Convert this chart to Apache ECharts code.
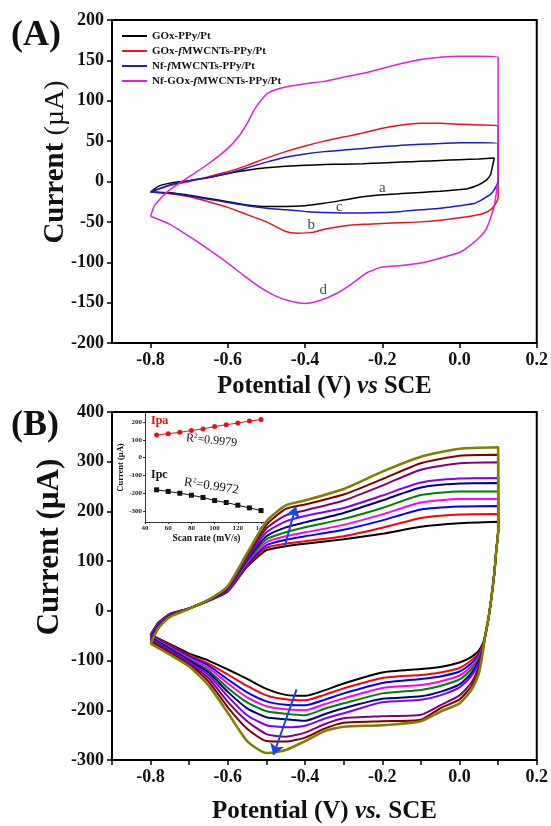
<!DOCTYPE html>
<html>
<head>
<meta charset="utf-8">
<script src="https://cdn.jsdelivr.net/npm/echarts@6/dist/echarts.min.js"></script>
<style>
  html, body { margin: 0; padding: 0; background: #fff; }
  #chart { width: 551px; height: 826px; }
</style>
</head>
<body>
<div id="chart"></div>
<script>
// ---------- panel A : four CV loops (potential V, current uA) ----------
const namesA = ['GOx-PPy/Pt', 'GOx-fMWCNTs-PPy/Pt', 'Nf-fMWCNTs-PPy/Pt', 'Nf-GOx-fMWCNTs-PPy/Pt']
const colorsA = ['#000000', '#e8141c', '#1a1ad0', '#e020e0']

// a : GOx-PPy/Pt
const eUpA1 = [-0.8, -0.78, -0.75, -0.7, -0.65, -0.6, -0.55, -0.5, -0.45, -0.4, -0.35, -0.3, -0.25, -0.2, -0.15, -0.1, -0.05, 0.0, 0.05, 0.09]
const iUpA1 = [-13, -6, -2, 1, 5, 10, 14, 17, 19, 20, 21, 21.5, 22, 23, 24, 25, 26, 27, 28, 29]
const eDnA1 = [0.09, 0.085, 0.08, 0.07, 0.05, 0.02, 0.0, -0.05, -0.1, -0.15, -0.2, -0.25, -0.3, -0.35, -0.4, -0.45, -0.5, -0.55, -0.6, -0.65, -0.7, -0.75, -0.8]
const iDnA1 = [29, 18, 8, 2, -4, -9, -10, -12, -13.5, -15, -16.5, -19, -23, -27, -30, -31, -31, -29, -25, -21, -17, -14, -13]
// b : GOx-fMWCNTs-PPy/Pt
const eUpA2 = [-0.8, -0.75, -0.7, -0.65, -0.6, -0.55, -0.5, -0.45, -0.4, -0.35, -0.3, -0.25, -0.2, -0.15, -0.1, -0.05, 0.0, 0.05, 0.1]
const iUpA2 = [-13, -5, 0, 6, 12, 20, 29, 37, 44, 50, 55, 60, 66, 70, 72, 72, 71, 70, 69]
const eDnA2 = [0.1, 0.1, 0.09, 0.08, 0.06, 0.04, 0.0, -0.05, -0.1, -0.15, -0.2, -0.25, -0.3, -0.35, -0.38, -0.42, -0.45, -0.5, -0.55, -0.6, -0.65, -0.7, -0.75, -0.8]
const iDnA2 = [69, -20, -30, -35, -40, -42, -45, -48, -50, -51, -52, -53, -55, -59, -63, -64, -62, -50, -41, -32, -25, -19, -15, -13]
// c : Nf-fMWCNTs-PPy/Pt
const eUpA3 = [-0.8, -0.75, -0.7, -0.65, -0.6, -0.55, -0.5, -0.45, -0.4, -0.35, -0.3, -0.25, -0.2, -0.15, -0.1, -0.05, 0.0, 0.05, 0.1]
const iUpA3 = [-13, -4, 1, 5, 10, 17, 24, 30, 34, 37, 39, 41, 43, 45, 46, 47, 48, 48, 47]
const eDnA3 = [0.1, 0.1, 0.09, 0.08, 0.06, 0.04, 0.0, -0.05, -0.1, -0.15, -0.2, -0.25, -0.3, -0.35, -0.4, -0.45, -0.5, -0.55, -0.6, -0.65, -0.7, -0.75, -0.8]
const iDnA3 = [47, 0, -10, -16, -22, -27, -30, -33, -35, -37, -38.5, -39, -39, -38.5, -37, -35, -33, -30, -26, -22, -18, -15, -13]
// d : Nf-GOx-fMWCNTs-PPy/Pt
const eUpA4 = [-0.8, -0.79, -0.77, -0.75, -0.7, -0.65, -0.6, -0.57, -0.55, -0.53, -0.5, -0.48, -0.45, -0.4, -0.35, -0.3, -0.25, -0.2, -0.15, -0.1, -0.05, 0.0, 0.05, 0.1]
const iUpA4 = [-43, -30, -19, -10, 6, 22, 41, 57, 72, 90, 108, 113, 117, 121, 124, 129, 134, 140, 146, 151, 154, 155, 155, 154]
const eDnA4 = [0.1, 0.1, 0.09, 0.07, 0.05, 0.02, 0.0, -0.05, -0.1, -0.15, -0.2, -0.24, -0.28, -0.32, -0.36, -0.4, -0.44, -0.48, -0.52, -0.56, -0.6, -0.65, -0.7, -0.75, -0.8]
const iDnA4 = [154, 10, -30, -58, -70, -82, -88, -95, -101, -104, -106, -113, -127, -139, -147, -151, -148, -141, -130, -116, -101, -84, -68, -53, -43]

const curveLetters = ['a', 'b', 'c', 'd']
const letterE = [-0.2, -0.384, -0.311, -0.353]
const letterI = [-8, -54, -32, -134]

// ---------- panel B : CVs at 50..140 mV/s ----------
const scanRates = [50, 60, 70, 80, 90, 100, 110, 120, 130, 140]
const colorsB = ['#000000', '#ff0000', '#0000ff', '#ff00ff', '#008000', '#000080', '#8000ff', '#800080', '#800000', '#808000']
const eUpB = [-0.8, -0.78, -0.75, -0.7, -0.65, -0.6, -0.55, -0.5, -0.45, -0.4, -0.3, -0.2, -0.1, 0.0, 0.1]
const iUpB50 = [-48, -24, -6, 5, 20, 39, 89, 122, 130, 135, 144, 155, 169, 176, 179]
const iUpB60 = [-49, -25, -7, 5, 20, 40, 91, 127, 135, 140, 150, 167, 187, 194, 195]
const iUpB70 = [-50, -26, -8, 5, 20, 42, 94, 132, 143, 150, 163, 182, 204, 210, 211]
const iUpB80 = [-51, -27, -8, 5, 21, 43, 97, 138, 150, 158, 173, 194, 218, 225, 225]
const iUpB90 = [-52, -28, -9, 5, 21, 44, 100, 144, 158, 168, 185, 207, 233, 240, 240]
const iUpB100 = [-54, -29, -9, 5, 21, 45, 103, 150, 168, 178, 197, 222, 248, 256, 257]
const iUpB110 = [-56, -30, -10, 5, 22, 46, 106, 158, 180, 191, 207, 232, 258, 266, 267]
const iUpB120 = [-59, -32, -11, 5, 22, 47, 109, 166, 192, 202, 222, 252, 284, 297, 299]
const iUpB130 = [-62, -33, -11, 4, 22, 48, 112, 173, 205, 214, 234, 265, 297, 312, 314]
const iUpB140 = [-66, -35, -12, 4, 22, 50, 116, 180, 212, 222, 245, 280, 310, 326, 329]

const eDnB = [0.1, 0.1, 0.095, 0.09, 0.083, 0.075, 0.066, 0.06, 0.05, 0.03, 0.0, -0.05, -0.1, -0.2, -0.3, -0.35, -0.4, -0.45, -0.5, -0.55, -0.6, -0.65, -0.7, -0.75, -0.8]
const iDnB50 = [179, 160, 120, 75, 29, -15, -52, -66, -80, -93, -104, -113, -117, -124, -146, -160, -171, -169, -157, -137, -118, -100, -86, -67, -48]
const iDnB60 = [195, 160, 120, 75, 29, -15, -52, -68, -85, -100, -115, -124, -129, -135, -156, -169, -180, -178, -170, -151, -128, -106, -89, -69, -49]
const iDnB70 = [211, 160, 120, 75, 29, -15, -52, -70, -88, -106, -122, -132, -137, -145, -166, -179, -190, -189, -182, -164, -138, -110, -92, -71, -50]
const iDnB80 = [225, 160, 120, 75, 29, -15, -52, -72, -92, -112, -130, -142, -149, -155, -176, -188, -200, -198, -192, -174, -146, -115, -95, -73, -51]
const iDnB90 = [240, 160, 120, 75, 29, -15, -52, -74, -96, -118, -138, -151, -159, -166, -186, -197, -210, -207, -202, -184, -155, -120, -98, -75, -52]
const iDnB100 = [257, 160, 120, 75, 29, -15, -52, -76, -100, -126, -148, -163, -172, -177, -196, -208, -221, -218, -214, -196, -163, -124, -100, -77, -54]
const iDnB110 = [267, 160, 120, 75, 29, -15, -52, -78, -105, -132, -154, -170, -179, -184, -206, -217, -231, -234, -230, -210, -172, -129, -103, -79, -56]
const iDnB120 = [299, 160, 120, 75, 29, -15, -52, -80, -112, -145, -170, -190, -209, -212, -216, -228, -245, -253, -248, -222, -183, -135, -106, -82, -59]
const iDnB130 = [314, 160, 120, 75, 29, -15, -52, -82, -118, -152, -178, -196, -219, -222, -225, -237, -255, -263, -262, -237, -194, -142, -109, -85, -62]
const iDnB140 = [329, 160, 120, 75, 29, -15, -52, -85, -126, -160, -186, -203, -222, -230, -233, -242, -262, -280, -286, -262, -205, -150, -112, -88, -66]

// blue arrows (potential, current)
const arrowUpE = [-0.453, -0.424]
const arrowUpI = [129, 210]
const arrowDnE = [-0.422, -0.482]
const arrowDnI = [-158, -290]

// inset : peak current vs scan rate
const insetRate = [50, 60, 70, 80, 90, 100, 110, 120, 130, 140]
const ipa = [127, 134, 142, 152, 161, 174, 184, 194, 205, 213]
const ipc = [-180, -189, -199, -210, -223, -240, -251, -266, -281, -296]

// tick labels
const xTicks = [-0.8, -0.6, -0.4, -0.2, 0.0, 0.2]
const xMinorTicksB = [-0.9, -0.8, -0.7, -0.6, -0.5, -0.4, -0.3, -0.2, -0.1, 0.0, 0.1, 0.2]
const insetYTicks = [-300, -200, -100, 0, 100, 200]

const SERIF = '"Liberation Serif", "Times New Roman", serif'

function loop(eUp, iUp, eDn, iDn) {
  const pts = []
  eUp.forEach((e, k) => pts.push([e, iUp[k]]))
  eDn.forEach((e, k) => pts.push([e, iDn[k]]))
  return pts
}

const loopsA = [
  loop(eUpA1, iUpA1, eDnA1, iDnA1),
  loop(eUpA2, iUpA2, eDnA2, iDnA2),
  loop(eUpA3, iUpA3, eDnA3, iDnA3),
  loop(eUpA4, iUpA4, eDnA4, iDnA4)
]
const upB = [iUpB50, iUpB60, iUpB70, iUpB80, iUpB90, iUpB100, iUpB110, iUpB120, iUpB130, iUpB140]
const dnB = [iDnB50, iDnB60, iDnB70, iDnB80, iDnB90, iDnB100, iDnB110, iDnB120, iDnB130, iDnB140]

const chart = echarts.init(document.getElementById('chart'))

const tickLabel = {
  fontFamily: SERIF, fontWeight: 'bold', fontSize: 18, color: '#111', margin: 8
}

function mainX(gridIndex, name, gap, size, tickVals) {
  return {
    type: 'value', gridIndex: gridIndex, min: -0.9, max: 0.2,
    name: name, nameLocation: 'middle', nameGap: gap,
    nameTextStyle: {
      fontFamily: SERIF, fontSize: size, color: '#111',
      rich: {
        b: { fontFamily: SERIF, fontSize: size, fontWeight: 'bold', color: '#111' },
        i: { fontFamily: SERIF, fontSize: size, fontWeight: 'bold', fontStyle: 'italic', color: '#111' }
      }
    },
    axisLine: { onZero: false, lineStyle: { color: '#000', width: 2 } },
    axisTick: { customValues: tickVals, length: 5, lineStyle: { color: '#000', width: 1.5 } },
    axisLabel: Object.assign({ customValues: xTicks, formatter: v => v.toFixed(1) }, tickLabel),
    splitLine: { show: false }
  }
}

const series = []
loopsA.forEach((pts, k) => {
  series.push({
    name: namesA[k], type: 'line', xAxisIndex: 0, yAxisIndex: 0,
    data: pts, showSymbol: false, smooth: 0.2,
    lineStyle: { color: colorsA[k], width: 1.5 }, itemStyle: { color: colorsA[k] }
  })
})
series.push({
  type: 'scatter', xAxisIndex: 0, yAxisIndex: 0, symbolSize: 0,
  data: curveLetters.map((c, k) => ({ name: c, value: [letterE[k], letterI[k]] })),
  label: { show: true, formatter: p => p.name, position: 'inside', fontFamily: SERIF, fontSize: 15, color: '#111' }
})
scanRates.forEach((r, k) => {
  series.push({
    name: r + ' mV/s', type: 'line', xAxisIndex: 1, yAxisIndex: 1,
    data: loop(eUpB, upB[k], eDnB, dnB[k]), showSymbol: false, smooth: 0.2,
    lineStyle: { color: colorsB[k], width: k === 9 ? 2.6 : 2 }, itemStyle: { color: colorsB[k] }
  })
})
series.push({
  type: 'line', xAxisIndex: 1, yAxisIndex: 1, data: [], silent: true,
  markLine: {
    silent: true, symbol: ['none', 'arrow'], symbolSize: 11,
    label: { show: false },
    lineStyle: { color: '#1846e8', width: 2, type: 'solid' },
    data: [
      [{ coord: [arrowUpE[0], arrowUpI[0]] }, { coord: [arrowUpE[1], arrowUpI[1]] }],
      [{ coord: [arrowDnE[0], arrowDnI[0]] }, { coord: [arrowDnE[1], arrowDnI[1]] }]
    ]
  }
})
series.push({
  name: 'Ipa', type: 'line', xAxisIndex: 2, yAxisIndex: 2,
  data: insetRate.map((r, k) => [r, ipa[k]]), symbol: 'circle', symbolSize: 5,
  lineStyle: { color: '#e81010', width: 1 }, itemStyle: { color: '#e81010' }
})
series.push({
  name: 'Ipc', type: 'line', xAxisIndex: 2, yAxisIndex: 2,
  data: insetRate.map((r, k) => [r, ipc[k]]), symbol: 'rect', symbolSize: 5,
  lineStyle: { color: '#111', width: 1 }, itemStyle: { color: '#111' }
})

const insetLabel = { fontFamily: SERIF, fontWeight: 'bold', fontSize: 7, color: '#222', margin: 3 }

chart.setOption({
  animation: false,
  backgroundColor: '#fff',
  grid: [
    { left: 112, right: 14, top: 20, bottom: 483, show: true, borderColor: '#000', borderWidth: 2 },
    { left: 112, right: 14, top: 412, bottom: 66, show: true, borderColor: '#000', borderWidth: 2 },
    { left: 145, right: 283, top: 413, bottom: 304 }
  ],
  legend: {
    data: namesA, orient: 'vertical', left: 117, top: 25,
    icon: 'rect', itemWidth: 25, itemHeight: 2, itemGap: 3,
    formatter: n => n.replace('-fMW', '-{i|f}MW'),
    textStyle: {
      fontFamily: SERIF, fontWeight: 'bold', fontSize: 11, color: '#111', lineHeight: 12,
      rich: { i: { fontFamily: SERIF, fontWeight: 'bold', fontStyle: 'italic', fontSize: 11, color: '#111' } }
    }
  },
  xAxis: [
    mainX(0, '{b|Potential (V) }{i|vs}{b| SCE}', 31, 24.5, xTicks),
    mainX(1, '{b|Potential (V) }{i|vs.}{b| SCE}', 39, 25, xMinorTicksB),
    {
      type: 'value', gridIndex: 2, min: 40, max: 146, interval: 20,
      name: 'Scan rate (mV/s)', nameLocation: 'middle', nameGap: 12,
      nameTextStyle: { fontFamily: SERIF, fontWeight: 'bold', fontSize: 9.5, color: '#111' },
      axisLine: { onZero: false, lineStyle: { color: '#333', width: 1 } },
      axisTick: { length: 2, lineStyle: { color: '#333' } },
      axisLabel: insetLabel,
      splitLine: { show: false }
    }
  ],
  yAxis: [
    {
      type: 'value', gridIndex: 0, min: -200, max: 200, interval: 50,
      axisLine: { onZero: false, lineStyle: { color: '#000', width: 2 } },
      axisTick: { length: 5, lineStyle: { color: '#000', width: 1.5 } },
      axisLabel: tickLabel,
      splitLine: { show: false }
    },
    {
      type: 'value', gridIndex: 1, min: -300, max: 400, interval: 100,
      axisLine: { onZero: false, lineStyle: { color: '#000', width: 2 } },
      axisTick: { length: 5, lineStyle: { color: '#000', width: 1.5 } },
      axisLabel: tickLabel,
      splitLine: { show: false }
    },
    {
      type: 'value', gridIndex: 2, min: -360, max: 250,
      name: 'Current (µA)', nameLocation: 'middle', nameGap: 15,
      nameTextStyle: { fontFamily: SERIF, fontWeight: 'bold', fontSize: 8.5, color: '#111' },
      axisLine: { onZero: false, lineStyle: { color: '#333', width: 1 } },
      axisTick: { customValues: insetYTicks, length: 2, lineStyle: { color: '#333' } },
      axisLabel: Object.assign({ customValues: insetYTicks }, insetLabel),
      splitLine: { show: false }
    }
  ],
  graphic: [
    { type: 'text', left: 11, top: 18, style: { text: '(A)', font: 'bold 36px ' + SERIF, fill: '#111' } },
    { type: 'text', left: 11, top: 408, style: { text: '(B)', font: 'bold 36px ' + SERIF, fill: '#111' } },
    {
      type: 'text', x: 56, y: 162, rotation: Math.PI / 2,
      style: {
        text: '{b|Current }{n|(µA)}', align: 'center', verticalAlign: 'middle',
        rich: {
          b: { font: 'bold 29px ' + SERIF, fill: '#111' },
          n: { font: '28px ' + SERIF, fill: '#111' }
        }
      }
    },
    {
      type: 'text', x: 50, y: 547, rotation: Math.PI / 2,
      style: { text: 'Current (µA)', font: 'bold 31px ' + SERIF, fill: '#111', align: 'center', verticalAlign: 'middle' }
    },
    { type: 'text', left: 151, top: 415, style: { text: 'Ipa', font: 'bold 12px ' + SERIF, fill: '#e81010' } },
    { type: 'text', left: 151, top: 469, style: { text: 'Ipc', font: 'bold 12px ' + SERIF, fill: '#111' } },
    {
      type: 'text', x: 186, y: 438, rotation: -0.1,
      style: {
        text: 'R{s|2}=0.9979', font: '12px ' + SERIF, fill: '#111', verticalAlign: 'middle',
        rich: { s: { font: '7px ' + SERIF, fill: '#111', verticalAlign: 'top', padding: [0, 0, 6, 0] } }
      }
    },
    {
      type: 'text', x: 184, y: 482, rotation: -0.15,
      style: {
        text: 'R{s|2}=0.9972', font: '13px ' + SERIF, fill: '#111', verticalAlign: 'middle',
        rich: { s: { font: '7px ' + SERIF, fill: '#111', verticalAlign: 'top', padding: [0, 0, 6, 0] } }
      }
    }
  ],
  series: series
})
</script>
</body>
</html>
